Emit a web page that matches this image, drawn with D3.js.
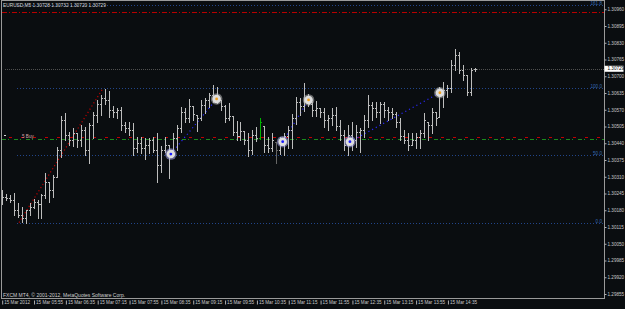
<!DOCTYPE html>
<html>
<head>
<meta charset="utf-8">
<script src="https://cdn.jsdelivr.net/npm/d3@7"></script>
<style>
  body { margin: 0; background: #0a0d10; }
  svg { display: block; font-family: "Liberation Sans", Arial, sans-serif; }
</style>
</head>
<body>
<div id="chart"></div>
<script>
// EURUSD M5, 15 Mar 2012, 05:15 .. 15:10
var header = "EURUSD,M5  1.30728 1.30732 1.30720 1.30729";
var footer = "FXCM MT4, \u00a9 2001-2012, MetaQuotes Software Corp.";

var opens = [
  1.30220,1.30232,1.30228,1.30220,1.30181,1.30162,1.30150,1.30181,1.30193,1.30212,
  1.30204,1.30239,1.30290,1.30259,1.30309,1.30414,1.30530,1.30472,1.30453,1.30480,
  1.30453,1.30492,1.30414,1.30511,1.30550,1.30592,1.30616,1.30608,1.30569,1.30561,
  1.30569,1.30511,1.30499,1.30492,1.30422,1.30441,1.30422,1.30433,1.30453,1.30414,
  1.30356,1.30414,1.30433,1.30414,1.30461,1.30499,1.30561,1.30538,1.30585,1.30550,
  1.30538,1.30589,1.30608,1.30627,1.30616,1.30608,1.30585,1.30538,1.30546,1.30484,
  1.30468,1.30488,1.30453,1.30414,1.30472,1.30461,1.30507,1.30433,1.30422,1.30445,
  1.30414,1.30433,1.30468,1.30492,1.30538,1.30600,1.30585,1.30608,1.30592,1.30569,
  1.30577,1.30561,1.30530,1.30538,1.30550,1.30507,1.30472,1.30433,1.30472,1.30453,
  1.30484,1.30492,1.30530,1.30589,1.30577,1.30561,1.30592,1.30569,1.30561,1.30553,
  1.30523,1.30468,1.30453,1.30433,1.30453,1.30464,1.30480,1.30523,1.30511,1.30561,
  1.30542,1.30639,1.30647,1.30655,1.30744,1.30783,1.30724,1.30705,1.30639,1.30728
];
var highs = [
  1.30259,1.30243,1.30239,1.30247,1.30208,1.30193,1.30181,1.30208,1.30224,1.30220,
  1.30243,1.30325,1.30290,1.30317,1.30426,1.30546,1.30557,1.30484,1.30499,1.30480,
  1.30511,1.30503,1.30519,1.30561,1.30608,1.30627,1.30651,1.30643,1.30585,1.30577,
  1.30581,1.30523,1.30523,1.30519,1.30464,1.30464,1.30461,1.30461,1.30464,1.30480,
  1.30430,1.30464,1.30433,1.30480,1.30511,1.30581,1.30577,1.30612,1.30585,1.30550,
  1.30608,1.30616,1.30635,1.30666,1.30658,1.30608,1.30589,1.30596,1.30546,1.30526,
  1.30523,1.30488,1.30480,1.30492,1.30503,1.30538,1.30507,1.30464,1.30480,1.30445,
  1.30464,1.30480,1.30507,1.30553,1.30620,1.30616,1.30674,1.30631,1.30600,1.30604,
  1.30577,1.30577,1.30550,1.30577,1.30581,1.30530,1.30492,1.30511,1.30523,1.30511,
  1.30499,1.30550,1.30627,1.30600,1.30600,1.30600,1.30600,1.30581,1.30577,1.30561,
  1.30538,1.30492,1.30480,1.30480,1.30480,1.30492,1.30557,1.30523,1.30577,1.30561,
  1.30658,1.30678,1.30666,1.30763,1.30806,1.30794,1.30744,1.30705,1.30732,1.30732
];
var lows = [
  1.30204,1.30220,1.30212,1.30162,1.30154,1.30135,1.30131,1.30162,1.30189,1.30150,
  1.30150,1.30228,1.30212,1.30232,1.30309,1.30387,1.30453,1.30433,1.30430,1.30426,
  1.30430,1.30395,1.30364,1.30461,1.30523,1.30550,1.30592,1.30542,1.30542,1.30538,
  1.30492,1.30484,1.30472,1.30395,1.30406,1.30402,1.30379,1.30402,1.30406,1.30290,
  1.30329,1.30406,1.30305,1.30414,1.30414,1.30484,1.30523,1.30523,1.30530,1.30488,
  1.30530,1.30557,1.30581,1.30600,1.30596,1.30569,1.30523,1.30530,1.30472,1.30453,
  1.30453,1.30437,1.30391,1.30398,1.30449,1.30457,1.30406,1.30406,1.30410,1.30364,
  1.30398,1.30395,1.30422,1.30422,1.30515,1.30550,1.30565,1.30585,1.30546,1.30546,
  1.30542,1.30503,1.30492,1.30511,1.30492,1.30453,1.30414,1.30395,1.30414,1.30426,
  1.30406,1.30464,1.30503,1.30530,1.30542,1.30519,1.30542,1.30530,1.30538,1.30503,
  1.30453,1.30441,1.30414,1.30433,1.30422,1.30422,1.30464,1.30453,1.30480,1.30511,
  1.30542,1.30581,1.30620,1.30639,1.30724,1.30713,1.30686,1.30627,1.30627,1.30720
];
var closes = [
  1.30232,1.30228,1.30220,1.30181,1.30162,1.30150,1.30181,1.30193,1.30212,1.30204,
  1.30239,1.30290,1.30259,1.30309,1.30414,1.30530,1.30472,1.30453,1.30480,1.30453,
  1.30492,1.30414,1.30511,1.30550,1.30592,1.30616,1.30608,1.30569,1.30561,1.30569,
  1.30511,1.30499,1.30492,1.30422,1.30441,1.30422,1.30433,1.30453,1.30414,1.30356,
  1.30414,1.30433,1.30406,1.30461,1.30499,1.30561,1.30538,1.30585,1.30553,1.30538,
  1.30589,1.30608,1.30627,1.30616,1.30608,1.30585,1.30538,1.30546,1.30484,1.30468,
  1.30488,1.30453,1.30414,1.30472,1.30461,1.30523,1.30433,1.30422,1.30453,1.30414,
  1.30433,1.30468,1.30492,1.30538,1.30600,1.30585,1.30608,1.30592,1.30569,1.30577,
  1.30561,1.30530,1.30538,1.30550,1.30507,1.30472,1.30433,1.30472,1.30453,1.30484,
  1.30492,1.30530,1.30589,1.30577,1.30561,1.30592,1.30569,1.30561,1.30553,1.30523,
  1.30468,1.30453,1.30433,1.30453,1.30464,1.30480,1.30530,1.30511,1.30561,1.30538,
  1.30639,1.30647,1.30655,1.30744,1.30783,1.30724,1.30705,1.30639,1.30724,1.30729
];
var greenBars = [65];
var dimBars = [69];

var timeLabels = ["15 Mar 2012", "15 Mar 05:55", "15 Mar 06:35", "15 Mar 07:15", "15 Mar 07:55",
  "15 Mar 08:35", "15 Mar 09:15", "15 Mar 09:55", "15 Mar 10:35", "15 Mar 11:15",
  "15 Mar 11:55", "15 Mar 12:35", "15 Mar 13:15", "15 Mar 13:55", "15 Mar 14:35"];
var timeLabelBars = [0, 8, 16, 24, 32, 40, 48, 56, 64, 72, 80, 88, 96, 104, 112];
var priceTicks = [1.29855, 1.29920, 1.29985, 1.30050, 1.30115, 1.30180, 1.30245, 1.30310, 1.30375,
  1.30440, 1.30505, 1.30570, 1.30635, 1.30700, 1.30765, 1.30830, 1.30895, 1.30960];

// fibonacci object: anchor bars/prices and levels
var fibBars = [4.35, 25.45];
var fibPrices = [1.30132, 1.30653];
var fibLevels = [0, 50, 100, 161.8];
var fibLabels = ["0.0", "50.0", "100.0", "161.8"];

// signal circles and the zigzag lines between them
var signalBars = [42.5, 54, 70.6, 77.1, 87.5, 110.1];
var signalPrices = [1.30398, 1.30612, 1.30446, 1.30608, 1.30446, 1.30636];
var signalKinds = ["low", "high", "low", "high", "low", "high"];

var bidPrice = 1.30729;
var stopPrice = 1.30948;
var orderPrices = [1.30466, 1.30457];
var orderLabel = "5 Buy";

var W = 625, H = 309;
var axisX = 604.5, axisY = 298.5;
var bg = "#0a0d10";

var svg = d3.select("#chart").append("svg")
  .attr("width", W)
  .attr("height", H);

svg.append("rect").attr("width", W).attr("height", H).attr("fill", bg);

var x = d3.scaleLinear().domain([0, 119]).range([1.7, 475.3]);
var y = d3.scaleLinear().domain([1.29855, 1.30960]).range([294, 9.25]);

function hline(price, x0, color, dash, width) {
  svg.append("line")
    .attr("x1", x0).attr("x2", axisX)
    .attr("y1", Math.round(y(price)) + 0.5).attr("y2", Math.round(y(price)) + 0.5)
    .attr("stroke", color)
    .attr("stroke-width", width || 1)
    .attr("stroke-dasharray", dash)
    .attr("shape-rendering", "crispEdges");
}

//level lines
hline(stopPrice, 2, "#b80000", "5,2,1,2");
hline(bidPrice, 5, "#505050", "1,1");
hline(orderPrices[1], 2, "#1c8a1c", "4,2,1,5", 1.5);
hline(orderPrices[0], 2, "#c00000", "0,7,3,2", 1.5);

// fib levels
var fibPrice = function(l) { return fibPrices[0] + (fibPrices[1] - fibPrices[0]) * l / 100; };
fibLevels.forEach(function(l, i) {
  hline(fibPrice(l), x(fibBars[0]) - 2, "#22458a", "1,2");
  svg.append("text")
    .attr("x", 602).attr("y", Math.round(y(fibPrice(l))) - 0.5)
    .attr("text-anchor", "end")
    .attr("fill", "#3569b0")
    .style("font-size", "4.6px")
    .text(fibLabels[i]);
});

// fib trendline
svg.append("line")
  .attr("x1", x(fibBars[0])).attr("y1", y(fibPrices[0]))
  .attr("x2", x(fibBars[1])).attr("y2", y(fibPrices[1]))
  .attr("stroke", "#c00000")
  .attr("stroke-width", 1.2)
  .attr("stroke-dasharray", "1.2,2.5");

// zigzag between signals
for (var k = 0; k + 1 < signalBars.length; k += 2) {
  svg.append("line")
    .attr("x1", x(signalBars[k])).attr("y1", y(signalPrices[k]))
    .attr("x2", x(signalBars[k + 1])).attr("y2", y(signalPrices[k + 1]))
    .attr("stroke", "#2a2aff")
    .attr("stroke-width", 1.2)
    .attr("stroke-dasharray", "1.2,3");
}

// OHLC bars
var bars = d3.range(opens.length);
var barColor = function(i) {
  if (greenBars.indexOf(i) >= 0) return "#00b400";
  if (dimBars.indexOf(i) >= 0) return "#666666";
  return "#bdbdbd";
};
var gBars = svg.append("g").attr("shape-rendering", "crispEdges");
bars.forEach(function(i) {
  var bx = Math.round(x(i));
  var hy = Math.round(y(highs[i])), ly = Math.round(y(lows[i]));
  gBars.append("rect").attr("x", bx).attr("y", hy).attr("width", 1).attr("height", ly - hy + 1)
    .attr("fill", barColor(i));
  gBars.append("rect").attr("x", bx - 1).attr("y", Math.round(y(opens[i]))).attr("width", 1).attr("height", 1)
    .attr("fill", barColor(i));
  gBars.append("rect").attr("x", bx + 1).attr("y", Math.round(y(closes[i]))).attr("width", 1).attr("height", 1)
    .attr("fill", barColor(i));
});

// signal circles
signalBars.forEach(function(b, i) {
  var cx = x(b), cy = y(signalPrices[i]);
  var low = signalKinds[i] === "low";
  svg.append("circle").attr("cx", cx).attr("cy", cy).attr("r", 5.8)
    .attr("fill", low ? "#a8a8f0" : "#b4b4b4").attr("opacity", 0.55);
  svg.append("circle").attr("cx", cx).attr("cy", cy).attr("r", 4.3)
    .attr("fill", "#dedede");
  svg.append("circle").attr("cx", cx).attr("cy", cy).attr("r", 1.4)
    .attr("fill", low ? "#1a1aff" : "#f0a020");
});

// order label
svg.append("rect").attr("x", 4).attr("y", Math.round(y(orderPrices[0])) - 2).attr("width", 2).attr("height", 1)
  .attr("fill", "#dddddd");
svg.append("text")
  .attr("x", 22).attr("y", Math.round(y(orderPrices[0])) + 0.5)
  .attr("fill", "#d9a9a9")
  .style("font-size", "4.6px")
  .text(orderLabel);

// frame
svg.append("rect")
  .attr("x", 1.5).attr("y", 0.5)
  .attr("width", axisX - 1.5).attr("height", axisY - 0.5)
  .attr("fill", "none").attr("stroke", "#9a9a9a")
  .attr("shape-rendering", "crispEdges");

// price axis
var yAxis = d3.axisRight(y)
  .tickValues(priceTicks)
  .tickFormat(d3.format(".5f"))
  .tickSize(2)
  .tickPadding(1);
var gy = svg.append("g").attr("transform", "translate(" + axisX + ",0)").call(yAxis);
gy.select(".domain").remove();
gy.selectAll("line").attr("stroke", "#b0b0b0");
gy.selectAll("text").attr("fill", "#c8c8c8").style("font-size", "4.6px").style("font-family", "Liberation Sans, Arial");

// current price box
svg.append("rect")
  .attr("x", axisX).attr("y", y(bidPrice) - 3)
  .attr("width", 19).attr("height", 6)
  .attr("fill", "#ffffff");
svg.append("text")
  .attr("x", axisX + 3).attr("y", y(bidPrice))
  .attr("dy", "0.35em")
  .attr("fill", "#000000")
  .style("font-size", "4.6px")
  .text(d3.format(".5f")(bidPrice));

// time axis
var xAxis = d3.axisBottom(x)
  .tickValues(timeLabelBars)
  .tickFormat(function(d, i) { return timeLabels[i]; })
  .tickSize(0);
var gx = svg.append("g").attr("transform", "translate(0," + axisY + ")").call(xAxis);
gx.select(".domain").remove();
gx.selectAll(".tick").append("line")
  .attr("x1", 0.5).attr("x2", 0.5).attr("y1", 2).attr("y2", 6)
  .attr("stroke", "#b0b0b0");
gx.selectAll("text")
  .attr("text-anchor", "start")
  .attr("x", 2).attr("y", 2).attr("dy", "0.71em")
  .attr("fill", "#c8c8c8")
  .style("font-size", "4.6px")
  .style("font-family", "Liberation Sans, Arial");

// header and footer
var head = svg.append("text")
  .attr("x", 3).attr("y", 7)
  .attr("fill", "#d8d8d8")
  .style("font-size", "4.8px")
  .text(header);
var hb = head.node().getBBox();
svg.insert("rect", "text")
  .attr("x", hb.x - 1).attr("y", hb.y).attr("width", hb.width + 4).attr("height", hb.height)
  .attr("fill", bg);

svg.append("text")
  .attr("x", 3).attr("y", 296.5)
  .attr("fill", "#d0d0d0")
  .style("font-size", "5px")
  .text(footer);
</script>
</body>
</html>
